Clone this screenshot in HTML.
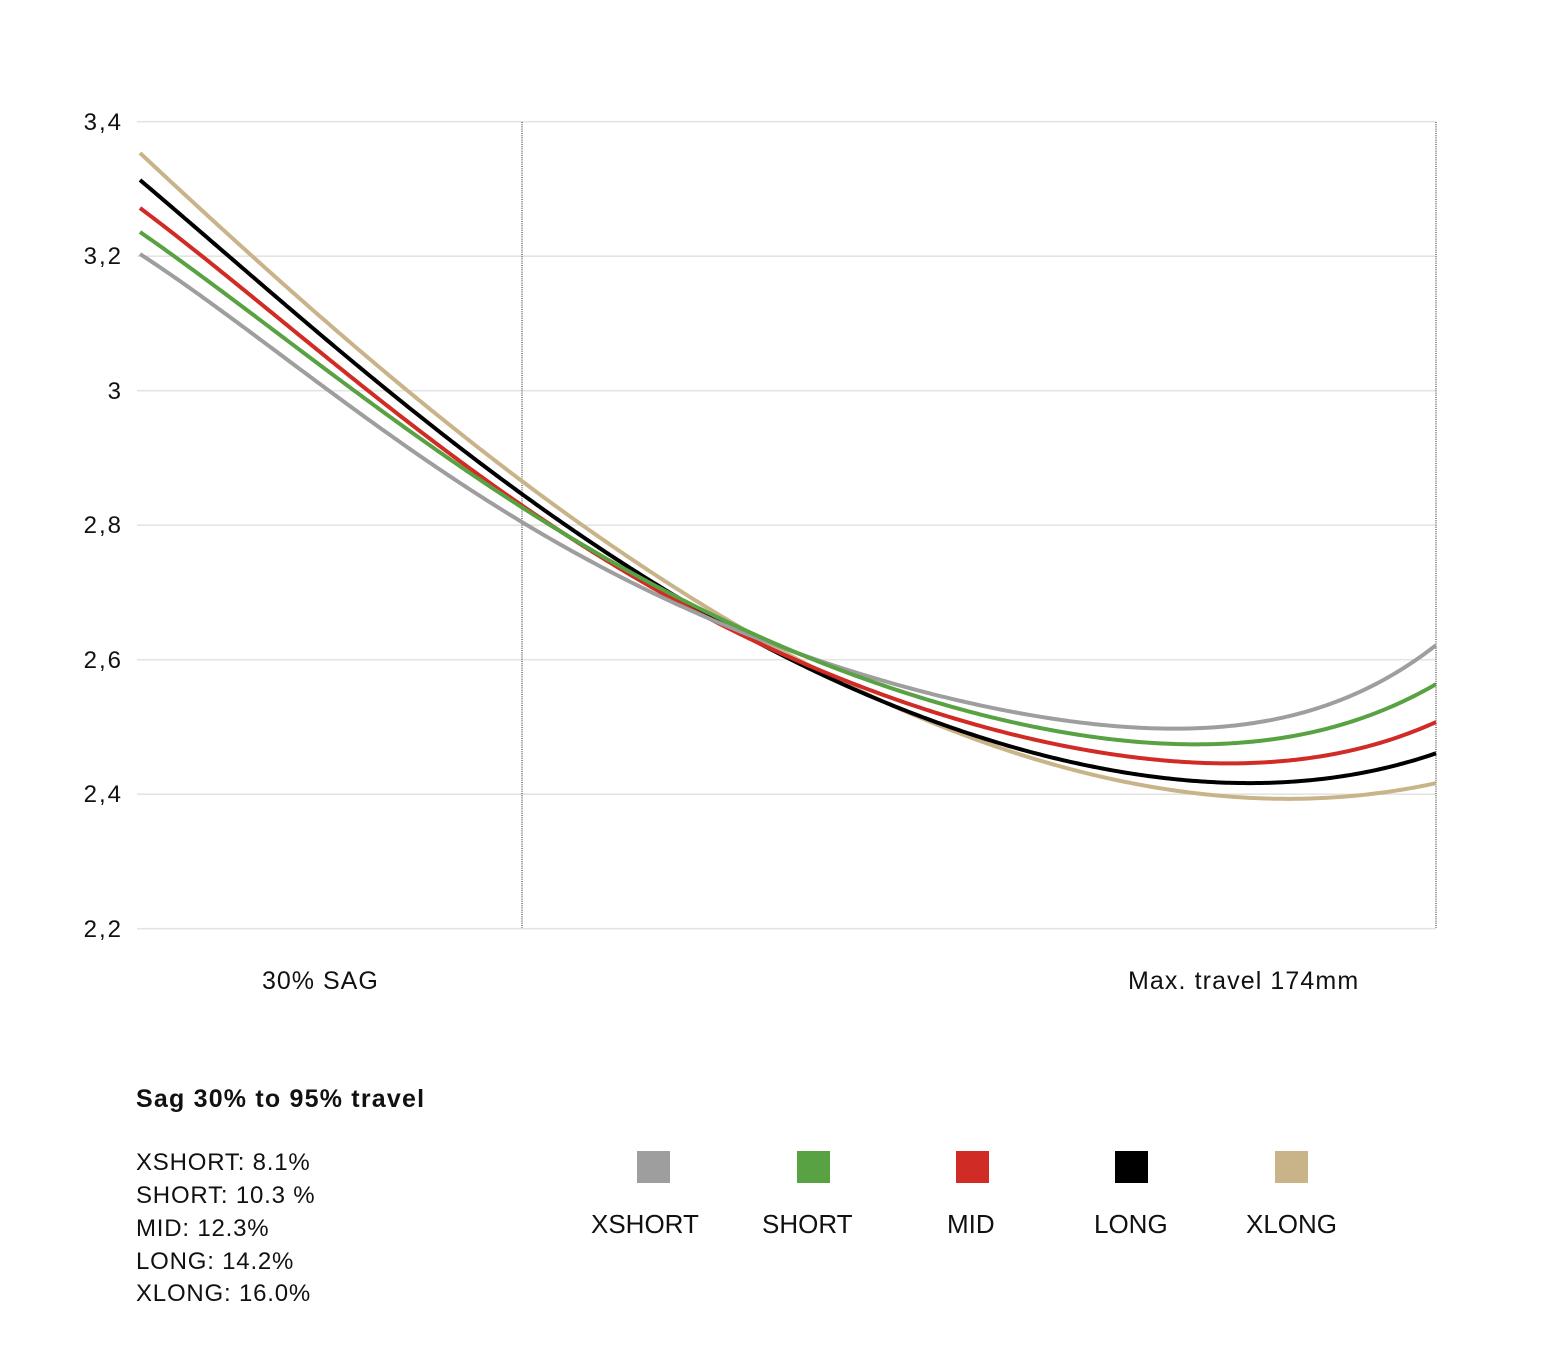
<!DOCTYPE html>
<html>
<head>
<meta charset="utf-8">
<style>
  html,body{margin:0;padding:0;background:#fff;}
  body{width:1564px;height:1354px;overflow:hidden;}
  svg{display:block;}
  text{font-family:"Liberation Sans", sans-serif; fill:#111;}
</style>
</head>
<body>
<svg id="chart" width="1564" height="1354" viewBox="0 0 1564 1354" xmlns="http://www.w3.org/2000/svg">
  <rect x="0" y="0" width="1564" height="1354" fill="#fff"/>
  <!-- gridlines -->
  <g stroke="#e4e4e4" stroke-width="1.6">
    <line x1="137" y1="121.7" x2="1436" y2="121.7"/>
    <line x1="137" y1="256.2" x2="1436" y2="256.2"/>
    <line x1="137" y1="390.7" x2="1436" y2="390.7"/>
    <line x1="137" y1="525.2" x2="1436" y2="525.2"/>
    <line x1="137" y1="659.7" x2="1436" y2="659.7"/>
    <line x1="137" y1="794.2" x2="1436" y2="794.2"/>
    <line x1="137" y1="928.7" x2="1436" y2="928.7"/>
  </g>
  <!-- dotted verticals -->
  <g stroke="#444" stroke-width="1.2" stroke-dasharray="1 1.2">
    <line x1="522" y1="122" x2="522" y2="928"/>
    <line x1="1436" y1="122" x2="1436" y2="928"/>
  </g>
  <!-- y labels -->
  <g font-size="24" text-anchor="end" letter-spacing="2">
    <text x="123" y="130">3,4</text>
    <text x="123" y="264">3,2</text>
    <text x="123" y="399">3</text>
    <text x="123" y="533">2,8</text>
    <text x="123" y="668">2,6</text>
    <text x="123" y="802">2,4</text>
    <text x="123" y="937">2,2</text>
  </g>
  <!-- curves -->
  <g fill="none" stroke-width="4" stroke-linecap="butt" stroke-linejoin="round">
    <path id="c-tan" stroke="#c9b48a" d="M140,153 L407,390 L522,482 L640,564 L740,628 L840,678 L940,729 L1040,762 L1136,781 L1236,797 L1336,798 L1386,793 L1436,783"/>
    <path id="c-black" stroke="#000000" d="M140,180 L387,390 L522,495 L640,572 L740,634 L840,682 L940,726 L1040,755 L1136,772 L1236,782 L1336,778 L1386,770 L1436,753"/>
    <path id="c-red" stroke="#d12b25" d="M140,208 L367,390 L522,505 L640,580 L740,636 L840,677 L940,714 L1040,741 L1136,758 L1236,763 L1336,753 L1386,742 L1436,722"/>
    <path id="c-gray" stroke="#9e9e9e" d="M140,254 L327,390 L522,521 L640,586 L740,633 L840,667 L940,697 L1040,716 L1136,727 L1236,725 L1336,702 L1386,680 L1436,645"/>
    <path id="c-green" stroke="#58a243" d="M140,232 L352,390 L522,506 L640,576 L740,631 L840,669 L940,704 L1040,727 L1136,742 L1236,742 L1336,727 L1386,710 L1436,684"/>
  </g>
  <!-- x labels -->
  <g font-size="25">
    <text x="262" y="989" letter-spacing="1">30% SAG</text>
    <text x="1128" y="989" letter-spacing="1.1">Max. travel 174mm</text>
  </g>
  <!-- summary -->
  <text x="136" y="1107" font-size="25" font-weight="bold" letter-spacing="1.2">Sag 30% to 95% travel</text>
  <g font-size="24" letter-spacing="0.8">
    <text x="136" y="1170">XSHORT: 8.1%</text>
    <text x="136" y="1203">SHORT: 10.3 %</text>
    <text x="136" y="1236">MID: 12.3%</text>
    <text x="136" y="1269">LONG: 14.2%</text>
    <text x="136" y="1301">XLONG: 16.0%</text>
  </g>
  <!-- legend -->
  <rect x="637" y="1151" width="33" height="32" fill="#9e9e9e"/>
  <rect x="797" y="1151" width="33" height="32" fill="#58a243"/>
  <rect x="956" y="1151" width="33" height="32" fill="#d12b25"/>
  <rect x="1115" y="1151" width="33" height="32" fill="#000000"/>
  <rect x="1275" y="1151" width="33" height="32" fill="#c9b48a"/>
  <g font-size="26">
    <text x="591" y="1233">XSHORT</text>
    <text x="762" y="1233">SHORT</text>
    <text x="947" y="1233">MID</text>
    <text x="1094" y="1233">LONG</text>
    <text x="1246" y="1233">XLONG</text>
  </g>
</svg>
<script>
(function(){
  function solve(A,b){
    var n=b.length;
    for(var i=0;i<n;i++){
      var m=i;
      for(var k=i+1;k<n;k++) if(Math.abs(A[k][i])>Math.abs(A[m][i])) m=k;
      var t=A[i];A[i]=A[m];A[m]=t; var tb=b[i];b[i]=b[m];b[m]=tb;
      for(var k=i+1;k<n;k++){
        var f=A[k][i]/A[i][i];
        for(var j=i;j<n;j++) A[k][j]-=f*A[i][j];
        b[k]-=f*b[i];
      }
    }
    var x=new Array(n);
    for(var i=n-1;i>=0;i--){
      var s=b[i];
      for(var j=i+1;j<n;j++) s-=A[i][j]*x[j];
      x[i]=s/A[i][i];
    }
    return x;
  }
  var ids=["c-tan","c-black","c-red","c-gray","c-green"];
  ids.forEach(function(id){
    var el=document.getElementById(id);
    if(!el) return;
    var d=el.getAttribute("d");
    var nums=d.replace(/[ML]/g," ").trim().split(/[\s,]+/).map(Number);
    var p=[];
    for(var i=0;i<nums.length;i+=2)p.push([nums[i],nums[i+1]]);
    var deg=5,n=deg+1;
    var A=[],b=[];
    for(var i=0;i<n;i++){A.push(new Array(n).fill(0));b.push(0);}
    p.forEach(function(pt,idx){
      var t=(pt[0]-140)/1296;
      var w=(idx===0||idx===p.length-1)?6:1;
      var pw=[];for(var k=0;k<2*n;k++)pw.push(Math.pow(t,k));
      for(var i=0;i<n;i++){
        for(var j=0;j<n;j++) A[i][j]+=w*pw[i+j];
        b[i]+=w*pt[1]*pw[i];
      }
    });
    var c=solve(A,b);
    var out="";
    for(var x=140;x<=1436;x+=3){
      var t=(x-140)/1296,y=0;
      for(var k=n-1;k>=0;k--) y=y*t+c[k];
      out+=(out?" L":"M")+x+","+y.toFixed(2);
    }
    var t=1,y=0;for(var k=n-1;k>=0;k--) y=y*t+c[k];
    out+=" L1436,"+y.toFixed(2);
    if(out.indexOf("NaN")<0) el.setAttribute("d",out);
  });
})();
</script>
</body>
</html>
